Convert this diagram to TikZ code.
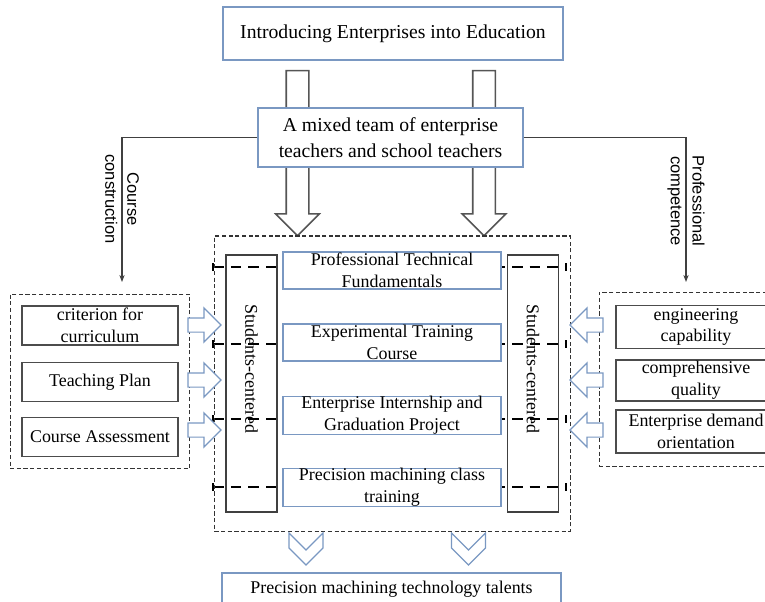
\documentclass[tikz,border=0pt]{standalone}
\usepackage{fontspec}
\setmainfont{Liberation Serif}
\newfontfamily\labelfont{Liberation Sans}
\usetikzlibrary{arrows.meta,positioning,fit,shapes.arrows}
\definecolor{edgeblue}{RGB}{122,152,194}
\definecolor{hollowgrey}{RGB}{85,85,85}

\begin{document}
\begin{tikzpicture}[
  font=\fontsize{10.2}{12.5}\selectfont,
  >={Stealth[length=4pt,width=3pt]},
  bluebox/.style={draw=edgeblue,line width=0.7pt,fill=white,align=center,inner sep=0pt},
  greybox/.style={draw=black!70,line width=1pt,fill=white,align=center,inner sep=0pt,minimum width=3.12cm,minimum height=0.78cm},
  stubox/.style={draw=black!75,line width=0.7pt,minimum width=1.02cm,minimum height=5.14cm,inner sep=0pt},
  group/.style={draw=black!80,dash pattern=on 2.4pt off 1.4pt,line width=0.7pt},
  bigarrow/.style={single arrow,draw=hollowgrey,line width=0.9pt,fill=white,inner xsep=0.21cm,inner ysep=0pt,
    minimum width=0.84cm,single arrow head extend=0.21cm,minimum height=3.3cm,shape border rotate=270},
  feed/.style={single arrow,draw=edgeblue,line width=0.7pt,fill=white,inner xsep=0pt,inner ysep=0.13cm,
    minimum width=0.66cm,single arrow head extend=0.2cm,minimum height=0.66cm},
  tier/.style={dash pattern=on 6pt off 4pt,line width=1pt,{Bar[width=4pt]}-{Bar[width=4pt]}},
  link/.style={->,line width=0.8pt,draw=black!75},
  side/.style={rotate=-90,align=center,font=\labelfont\fontsize{9.4}{12.5}\selectfont}
]
\useasboundingbox (0,0) rectangle (15.3,-12.04);
\clip (0,0) rectangle (15.3,-12.04);

% dashed tiers running across the core
\foreach \y in {-5.34,-6.88,-8.38,-9.74}
  \draw[tier] (4.24,\y) -- (11.34,\y);

\node[bluebox,minimum width=6.8cm,minimum height=1.06cm,font=\fontsize{11.2}{14.8}\selectfont] (intro) at (7.86,-0.67) {Introducing Enterprises into Education};
\node[bigarrow] (dl) at (5.95,-2.95) {};
\node[bigarrow] (dr) at (9.68,-2.95) {};
\node[bluebox,minimum width=5.3cm,minimum height=1.18cm,font=\fontsize{11.2}{14.8}\selectfont] (team) at (7.81,-2.75) {A mixed team of enterprise\\teachers and school teachers};

% course side
\coordinate (cc) at (2.44,-5.64);
\draw[link] (team.west) -| (cc);
\node[side] (cclbl) at (2.44,-3.98) {Course\\construction};
\node[greybox] (crit) at (2.0,-6.51) {criterion for\\curriculum};
\node[greybox] (plan) at (2.0,-7.64) {Teaching Plan};
\node[greybox] (assess) at (2.0,-8.74) {Course Assessment};
\node[group,fit=(crit)(plan)(assess),inner sep=0.22cm] (course) {};

% competence side
\coordinate (pc) at (13.72,-5.64);
\draw[link] (team.east) -| (pc);
\node[side] (pclbl) at (13.72,-4.02) {Professional\\competence};
\node[greybox,minimum width=3.2cm,minimum height=0.86cm] (eng) at (13.92,-6.54) {engineering\\capability};
\node[greybox,minimum width=3.2cm,minimum height=0.82cm] (comp) at (13.92,-7.61) {comprehensive\\quality};
\node[greybox,minimum width=3.2cm,minimum height=0.86cm] (dem) at (13.92,-8.63) {Enterprise demand\\orientation};
\node[group,fit=(eng)(comp)(dem),inner xsep=0.32cm,inner ysep=0.25cm] (compet) {};

% students-centered core
\node[stubox] (stl) at (5.03,-7.67) {};
\node[stubox] (str) at (10.66,-7.67) {};
\node[rotate=-90] (stltext) at (5.03,-7.38) {Students-centered};
\node[rotate=-90] (strtext) at (10.66,-7.38) {Students-centered};
\node[bluebox,minimum width=4.36cm,minimum height=0.74cm] (fund) at (7.84,-5.41) {Professional Technical\\Fundamentals};
\node[bluebox,minimum width=4.36cm,minimum height=0.74cm] (exper) at (7.84,-6.85) {Experimental Training\\Course};
\node[bluebox,minimum width=4.36cm,minimum height=0.74cm] (intern) at (7.84,-8.31) {Enterprise Internship and\\Graduation Project};
\node[bluebox,minimum width=4.36cm,minimum height=0.74cm] (class) at (7.84,-9.75) {Precision machining class\\training};
\node[group,fit=(stl)(str),inner xsep=0.22cm,inner ysep=0.37cm] (core) {};

% feeding arrows
\foreach \y [count=\i] in {-6.5,-7.6,-8.6} {
  \node[feed] (fin\i) at (4.02,\y) {};
  \node[feed,shape border rotate=180] (fout\i) at (11.8,\y) {};
}

% chevrons down to the result
\foreach \x in {6.12,9.37}
  \draw[edgeblue,line width=0.7pt,line join=miter] (\x-0.34,-10.66) -- ++(0,-0.3) -- ++(0.34,-0.34)
    -- ++(0.34,0.34) -- ++(0,0.3) -- ++(-0.34,-0.34) -- cycle;

\node[bluebox,minimum width=6.78cm,minimum height=0.64cm] (talent) at (7.83,-11.78) {Precision machining technology talents};
\end{tikzpicture}
\end{document}
